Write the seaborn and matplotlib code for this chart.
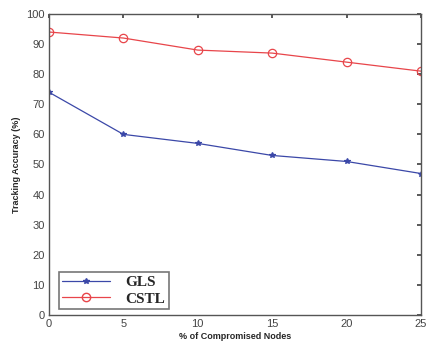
import numpy as np
import pandas as pd
import matplotlib
matplotlib.use("Agg")
import matplotlib.pyplot as plt
import seaborn as sns

sns.set_theme(style="white")
plt.rcParams["font.family"] = ["Liberation Sans", "DejaVu Sans"]

# data
compromised = [0, 5, 10, 15, 20, 25]
gls_acc = [74, 60, 57, 53, 51, 47]
cstl_acc = [94, 92, 88, 87, 84, 81]

df = pd.DataFrame({
    "x": compromised * 2,
    "acc": gls_acc + cstl_acc,
    "method": ["GLS"] * 6 + ["CSTL"] * 6,
})

fig = plt.figure(figsize=(4.28, 3.49), dpi=100)
ax = fig.add_axes([0.1145, 0.0974, 0.869, 0.8626])

palette = {"GLS": "#3b48a8", "CSTL": "#e8454a"}
markers = {"GLS": "*", "CSTL": "o"}
sns.lineplot(data=df, x="x", y="acc", hue="method", style="method",
             palette=palette, markers=markers, dashes=False, ax=ax,
             linewidth=0.9, legend=False)

# matlab-like markers: edge in line colour, hollow circles
for line in ax.get_lines():
    c = line.get_color()
    line.set_markeredgecolor(c)
    line.set_markeredgewidth(0.9)
    if line.get_marker() == "o":
        line.set_markerfacecolor("none")
        line.set_markersize(6)
    else:
        line.set_markerfacecolor(c)
        line.set_markersize(4)

ax.set_xlim(0, 25)
ax.set_ylim(0, 100)
ax.set_xticks(compromised)
ax.set_yticks(range(0, 101, 10))
ax.tick_params(direction="in", length=3, labelsize=8, colors="#444444",
               top=True, right=True, labeltop=False, labelright=False, pad=3)
for s in ax.spines.values():
    s.set_color("#555555")
    s.set_linewidth(1.0)

ax.set_xlabel("% of Compromised Nodes", fontsize=6.5, fontweight="bold", labelpad=2)
ax.set_ylabel("Tracking Accuracy (%)", fontsize=6.5, fontweight="bold", labelpad=4)

handles = [
    plt.Line2D([], [], color=palette["GLS"], marker="*", markersize=4, linewidth=0.9),
    plt.Line2D([], [], color=palette["CSTL"], marker="o", markersize=6,
               markerfacecolor="none", linewidth=0.9),
]
leg = ax.legend(handles, ["GLS", "CSTL"], loc="lower left", bbox_to_anchor=(0.005, -0.005),
                prop={"family": "Liberation Serif", "weight": "bold", "size": 11},
                frameon=True, fancybox=False, edgecolor="#555555",
                handlelength=3.2, handletextpad=1.0, borderpad=0.2, labelspacing=0.2)
leg.get_frame().set_linewidth(1.2)

fig.savefig("out.png", dpi=100)
